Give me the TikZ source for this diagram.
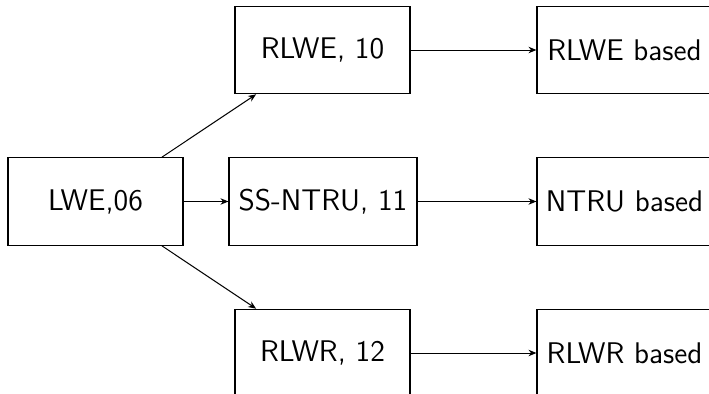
\documentclass[tikz,border=0pt]{standalone}
\usetikzlibrary{arrows.meta}
\begin{document}
\begin{tikzpicture}[x=0.4pt,y=-0.4pt,
  box/.style={draw, line width=0.45pt, inner sep=0pt, minimum width=70pt, minimum height=35pt,
    font=\sffamily\fontsize{11.95}{14.3}\selectfont},
  conn/.style={-{Stealth[length=3.2pt,width=2.6pt]}, line width=0.4pt}]
\useasboundingbox (0,0) rectangle (709,394);
\clip (0,0) rectangle (709,394);
\node[box] (lwe) at (95.5,201.5) {LWE,06};
\node[box] (rlwe) at (322.5,50) {RLWE, 10};
\node[box, minimum width=75.2pt] (ntru) at (323,201.5) {SS-NTRU, 11};
\node[box] (rlwr) at (322.5,353) {RLWR, 12};
\node[box] (rlweb) at (624.5,50) {RLWE based};
\node[box] (ntrub) at (624.5,201.5) {NTRU based};
\node[box] (rlwrb) at (624.5,353) {RLWR based};
\draw[conn] (lwe) -- (rlwe);
\draw[conn] (lwe) -- (ntru);
\draw[conn] (lwe) -- (rlwr);
\draw[conn] (rlwe) -- (rlweb);
\draw[conn] (ntru) -- (ntrub);
\draw[conn] (rlwr) -- (rlwrb);
\end{tikzpicture}
\end{document}
